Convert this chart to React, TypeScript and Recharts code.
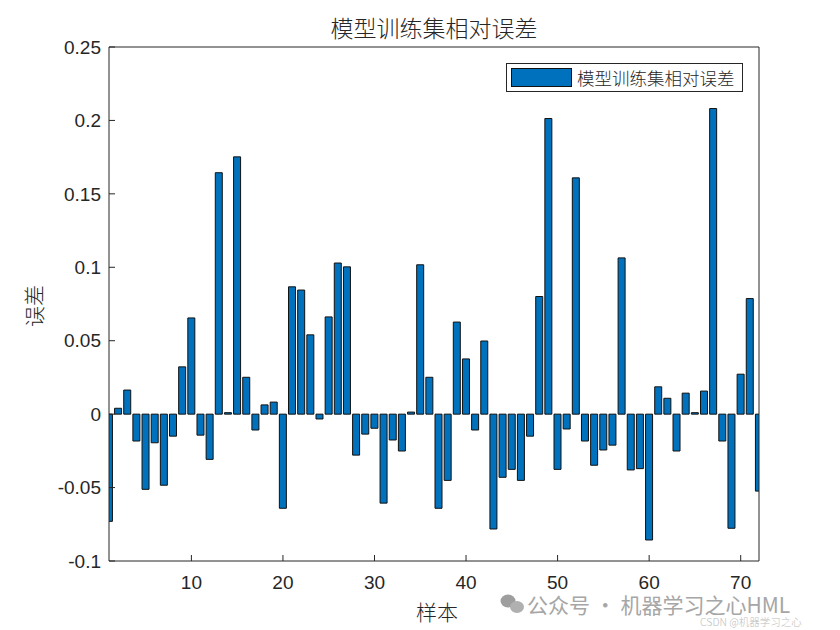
import React from 'react';
import { BarChart, Bar, XAxis, YAxis, Legend } from 'recharts';

const samples: number[] = Array.from({ length: 72 }, (_, i) => i + 1);
const errors: number[] = [
  -0.073, 0.004, 0.0164, -0.0183, -0.0512, -0.0195, -0.0484, -0.015, 0.0322, 0.0655,
  -0.0143, -0.0308, 0.1644, 0.001, 0.1752, 0.0251, -0.0108, 0.0063, 0.0082, -0.0641,
  0.0867, 0.0845, 0.054, -0.0033, 0.0662, 0.1029, 0.1003, -0.0279, -0.0136, -0.0096,
  -0.0606, -0.0176, -0.0251, 0.0014, 0.1017, 0.0251, -0.0641, -0.0451, 0.0627, 0.0376,
  -0.0108, 0.0498, -0.0782, -0.043, -0.0376, -0.0451, -0.015, 0.0801, 0.2013, -0.0376,
  -0.0101, 0.1609, -0.0183, -0.0348, -0.0244, -0.0211, 0.1064, -0.038, -0.0371, -0.0857,
  0.0186, 0.0108, -0.0251, 0.0143, 0.001, 0.0157, 0.2081, -0.0183, -0.0777, 0.0272,
  0.0787, -0.0524,
];
const xTicks: number[] = [10, 20, 30, 40, 50, 60, 70];
const yTicks: number[] = [-0.1, -0.05, 0, 0.05, 0.1, 0.15, 0.2, 0.25];
const seriesName = '模型训练集相对误差';
const titleText = '模型训练集相对误差';
const xLabel = '样本';
const yLabel = '误差';

const data = samples.map((s, i) => ({ sample: s, err: errors[i] }));

const AX = '#262626';
const NUM_FONT = '"Liberation Sans", Arial, Helvetica, sans-serif';
const CJK_FONT = '"Noto Sans CJK SC", "Noto Sans", sans-serif';
const BLUE = '#0072BD';

const LegendBox = () => (
  <div
    style={{
      width: 235,
      height: 27,
      border: `1px solid ${AX}`,
      background: '#fff',
      display: 'flex',
      alignItems: 'center',
      boxSizing: 'content-box',
    }}
  >
    <div style={{ width: 59, height: 17, background: BLUE, border: '1px solid #111', marginLeft: 4 }} />
    <span
      style={{
        fontFamily: CJK_FONT,
        fontWeight: 300,
        fontSize: 17.5,
        color: AX,
        marginLeft: 5,
        lineHeight: '27px',
        whiteSpace: 'nowrap',
      }}
    >
      {seriesName}
    </span>
  </div>
);

export default function App() {
  return (
    <div style={{ position: 'absolute', left: 0, top: 0, width: 840, height: 630, background: '#fff' }}>
      <svg width={840} height={630} style={{ position: 'absolute', left: 0, top: 0 }}>
        <g fill="#9e9e9e">
          <ellipse cx={508} cy={601} rx={7.5} ry={6.5} />
          <ellipse cx={517} cy={607} rx={7} ry={6} fill="#b0b0b0" />
        </g>
        <text x={527} y={613} fontFamily={CJK_FONT} fontSize={21} fill="#a6a6a6">
          公众号 · 机器学习之心HML
        </text>
        <text x={700} y={626} fontFamily={CJK_FONT} fontSize={10.5} fill="#bdbdbd" fontWeight={300}>
          CSDN @机器学习之心
        </text>
      </svg>
      <div style={{ position: 'absolute', left: 0, top: 0 }}>
        <BarChart
          width={840}
          height={630}
          data={data}
          margin={{ top: 0, right: 0, bottom: 0, left: 0 }}
          barCategoryGap="20%"
        >
          <XAxis
            dataKey="sample"
            type="number"
            domain={[1, 72]}
            allowDataOverflow
            ticks={xTicks}
            interval={0}
            height={69}
            tickSize={-6}
            tickMargin={21}
            axisLine={{ stroke: AX, strokeWidth: 1 }}
            tickLine={{ stroke: AX }}
            tick={{ fill: AX, fontFamily: NUM_FONT, fontSize: 19 }}
          />
          <XAxis
            xAxisId="top"
            dataKey="sample"
            orientation="top"
            type="number"
            domain={[1, 72]}
            allowDataOverflow
            ticks={xTicks}
            interval={0}
            height={47}
            tickSize={-6}
            tick={false}
            axisLine={{ stroke: AX, strokeWidth: 1 }}
            tickLine={{ stroke: AX }}
          />
          <YAxis
            type="number"
            domain={[-0.1, 0.25]}
            allowDataOverflow
            ticks={yTicks}
            interval={0}
            width={109}
            tickSize={-6}
            tickMargin={14}
            axisLine={{ stroke: AX, strokeWidth: 1 }}
            tickLine={{ stroke: AX }}
            tick={{ fill: AX, fontFamily: NUM_FONT, fontSize: 19 }}
          />
          <YAxis
            yAxisId="right"
            orientation="right"
            type="number"
            domain={[-0.1, 0.25]}
            allowDataOverflow
            ticks={yTicks}
            interval={0}
            width={81}
            tickSize={-6}
            tick={false}
            axisLine={{ stroke: AX, strokeWidth: 1 }}
            tickLine={{ stroke: AX }}
          />
          <Legend
            layout="vertical"
            align="center"
            verticalAlign="middle"
            wrapperStyle={{ position: 'absolute', left: 506, top: 63, width: 237 }}
            content={() => <LegendBox />}
          />
          <Bar
            dataKey="err"
            name={seriesName}
            fill={BLUE}
            stroke="#111"
            strokeWidth={1}
            barSize={7}
            isAnimationActive={false}
          />
        </BarChart>
      </div>
      <svg width={840} height={630} style={{ position: 'absolute', left: 0, top: 0, pointerEvents: 'none' }}>
        <text x={434} y={37} textAnchor="middle" fontFamily={CJK_FONT} fontWeight={300} fontSize={23} fill={AX}>
          {titleText}
        </text>
        <text
          x={0}
          y={0}
          transform="translate(42,306) rotate(-90)"
          textAnchor="middle"
          fontFamily={CJK_FONT}
          fontWeight={300}
          fontSize={21}
          fill={AX}
        >
          {yLabel}
        </text>
        <text x={437} y={620} textAnchor="middle" fontFamily={CJK_FONT} fontWeight={300} fontSize={21} fill={AX}>
          {xLabel}
        </text>
      </svg>
    </div>
  );
}
